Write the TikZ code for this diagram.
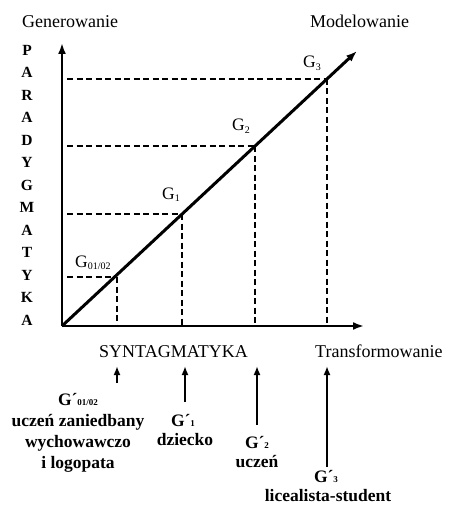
\documentclass[tikz,border=0pt]{standalone}
\usepackage{fontspec}
\setmainfont{Liberation Serif}
\usetikzlibrary{arrows.meta}
\newcommand\subs[1]{\raisebox{-0.3ex}{\fontsize{10}{10}\selectfont #1}}
\newcommand\bsubs[1]{\raisebox{-0.1ex}{\fontsize{9}{9}\selectfont #1}}
\begin{document}
\begin{tikzpicture}[x=1pt,y=-1pt,
  axis/.style={line width=2.6pt,-{Latex[length=11pt,width=8pt]}},
  guide/.style={line width=2.2pt,dash pattern=on 6pt off 3.5pt},
  lbl/.style={font=\fontsize{18}{18}\selectfont, inner sep=0pt, anchor=base west},
  blbl/.style={font=\fontsize{17.5}{17.5}\selectfont\bfseries, inner sep=0pt, anchor=base},
  letter/.style={font=\fontsize{15.5}{15.5}\selectfont\bfseries, inner sep=0pt},
  gl/.style={font=\fontsize{17.5}{17.5}\selectfont, inner sep=0pt, anchor=base west},
  up/.style={line width=2.6pt,-{Latex[length=9pt,width=7pt]}}
]
\useasboundingbox (0,0) rectangle (451,505);

% axes
\coordinate (O) at (62,326);
\coordinate (ytop) at (62,43);
\coordinate (xend) at (364,326);
\coordinate (dtip) at (357,51);
\draw[axis] (O) -- (ytop);
\draw[axis] (O) -- (xend);
\draw[axis,line width=3pt] (O) -- (dtip);

% points on the diagonal
\coordinate (P0) at (117,277);
\coordinate (P1) at (182,214);
\coordinate (P2) at (255,146);
\coordinate (P3) at (327,79);
\foreach \p in {P0,P1,P2,P3}{
  \draw[guide] (O |- \p) ++(5,0) -- (\p);
  \draw[guide] (\p) -- (\p |- O);
}

% point labels
\node[gl] (g0) at (75,267) {G\subs{01/02}};
\node[gl] (g1) at (162,199) {G\subs{1}};
\node[gl] (g2) at (232,131) {G\subs{2}};
\node[gl] (g3) at (303,68) {G\subs{3}};

% axis titles
\node[lbl] (gen) at (22,28) {Generowanie};
\node[lbl] (mod) at (310,28) {Modelowanie};
\node[lbl] (syn) at (99,357) {SYNTAGMATYKA};
\node[lbl] (tra) at (315,357) {Transformowanie};

% vertical word
\foreach \l [count=\i from 0] in {P,A,R,A,D,Y,G,M,A,T,Y,K,A}
  \node[letter] (v\i) at (27,{50+22.5*\i}) {\l};

% bottom labels
\node[blbl] (b0a) at (78,405) {G´\bsubs{01/02}};
\node[blbl] (b0b) at (78,426) {uczeń zaniedbany};
\node[blbl] (b0c) at (78,447) {wychowawczo};
\node[blbl] (b0d) at (78,468) {i logopata};
\node[blbl] (b1a) at (183,426) {G´\bsubs{1}};
\node[blbl] (b1b) at (185,445) {dziecko};
\node[blbl] (b2a) at (257,448) {G´\bsubs{2}};
\node[blbl] (b2b) at (257,467) {uczeń};
\node[blbl] (b3a) at (326,482) {G´\bsubs{3}};
\node[blbl] (b3b) at (328,501) {licealista-student};

% arrows
\coordinate (a0f) at (117,383); \coordinate (a0t) at (117,366);
\coordinate (a1f) at (185,402); \coordinate (a1t) at (185,366);
\coordinate (a2f) at (257,425); \coordinate (a2t) at (257,366);
\coordinate (a3f) at (327,467); \coordinate (a3t) at (327,366);
\draw[up] (a0f) -- (a0t);
\draw[up] (a1f) -- (a1t);
\draw[up] (a2f) -- (a2t);
\draw[up] (a3f) -- (a3t);
\end{tikzpicture}
\end{document}
